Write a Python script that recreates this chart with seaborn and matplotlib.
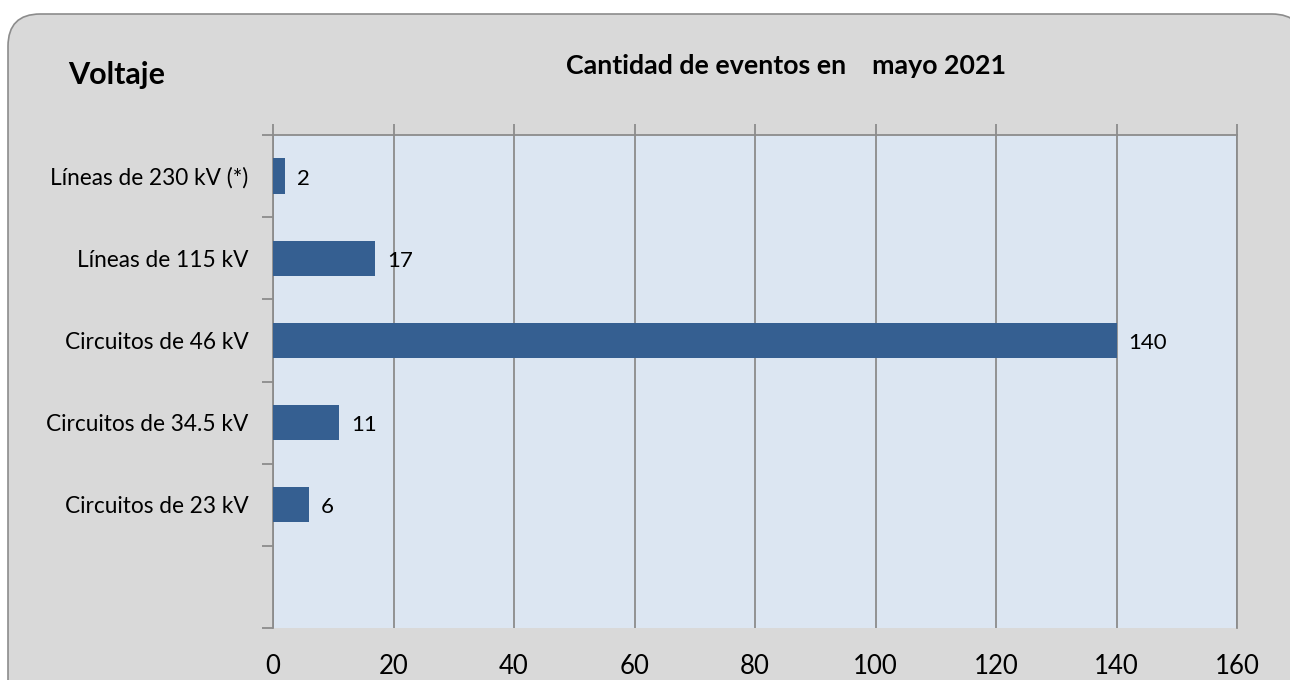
import matplotlib.pyplot as plt
import seaborn as sns
import pandas as pd
from matplotlib.patches import FancyBboxPatch

# Datos
categorias = ["Líneas de 230 kV (*)", "Líneas de 115 kV", "Circuitos de 46 kV",
              "Circuitos de 34.5 kV", "Circuitos de 23 kV"]
eventos = [2, 17, 140, 11, 6]
x_ticks = [0, 20, 40, 60, 80, 100, 120, 140, 160]

df = pd.DataFrame({"categoria": categorias, "eventos": eventos})

sns.set_style("white")
plt.rcParams['font.family'] = ['Lato', 'DejaVu Sans']
plt.rcParams['text.color'] = 'black'
plt.rcParams['xtick.color'] = 'black'
plt.rcParams['ytick.color'] = 'black'

fig = plt.figure(figsize=(12.9, 6.8), dpi=100)
fig.patch.set_facecolor("white")

# Marco redondeado gris (sale por la derecha y por abajo)
marco = FancyBboxPatch((8 / 1290, -0.1), 1296 / 1290, 1.1 - 14 / 680,
                       boxstyle="round,pad=0,rounding_size=0.025",
                       transform=fig.transFigure, facecolor="#d9d9d9",
                       edgecolor="#8c8c8c", linewidth=1.2,
                       mutation_aspect=1290 / 680, zorder=-10)
fig.patches.append(marco)

ax = fig.add_axes([273 / 1290, 1 - 628 / 680, 964 / 1290, 493 / 680])
ax.set_facecolor("#dce6f2")

sns.barplot(data=df, x="eventos", y="categoria", color="#355f91",
            saturation=1, width=0.43, ax=ax, zorder=3, linewidth=0,
            edgecolor="none")

for i, v in enumerate(eventos):
    ax.text(v + 2, i + 0.03, str(v), va="center", ha="left", fontsize=16,
            color="black")

ax.set_xlim(0, 160)
ax.set_ylim(5.5, -0.5)
ax.set_xticks(x_ticks)
ax.set_xticklabels([str(t) for t in x_ticks], fontsize=18.5)
ax.set_yticks(range(len(categorias)))
ax.set_yticklabels(categorias, fontsize=16.3)
ax.set_yticks([i - 0.5 for i in range(7)], minor=True)
ax.set_xlabel("")
ax.set_ylabel("")

ax.grid(axis="x", color="#8c8c8c", linewidth=1.3, zorder=1)
ax.set_axisbelow(True)

ax.tick_params(axis="x", top=True, bottom=False, labeltop=False, labelbottom=True,
               length=8, width=1.3, color="#8c8c8c", pad=11, direction="out",
               labelcolor="black")
ax.tick_params(axis="y", which="major", left=False, length=0, pad=17.5,
               labelcolor="black")
ax.tick_params(axis="y", which="minor", left=True, length=8, width=1.3,
               color="#8c8c8c", direction="out")

for lado in ["left", "top", "right"]:
    ax.spines[lado].set_visible(True)
    ax.spines[lado].set_color("#8c8c8c")
    ax.spines[lado].set_linewidth(1.3)
ax.spines["bottom"].set_visible(False)

fig.text(68 / 1290, 1 - 75 / 680, "Voltaje", fontsize=22, fontweight="bold",
         va="center", ha="left")
fig.text(786 / 1290, 1 - 66 / 680, "Cantidad de eventos en    mayo 2021",
         fontsize=19.3, fontweight="bold", va="center", ha="center")

fig.savefig("out.png", dpi=100)
